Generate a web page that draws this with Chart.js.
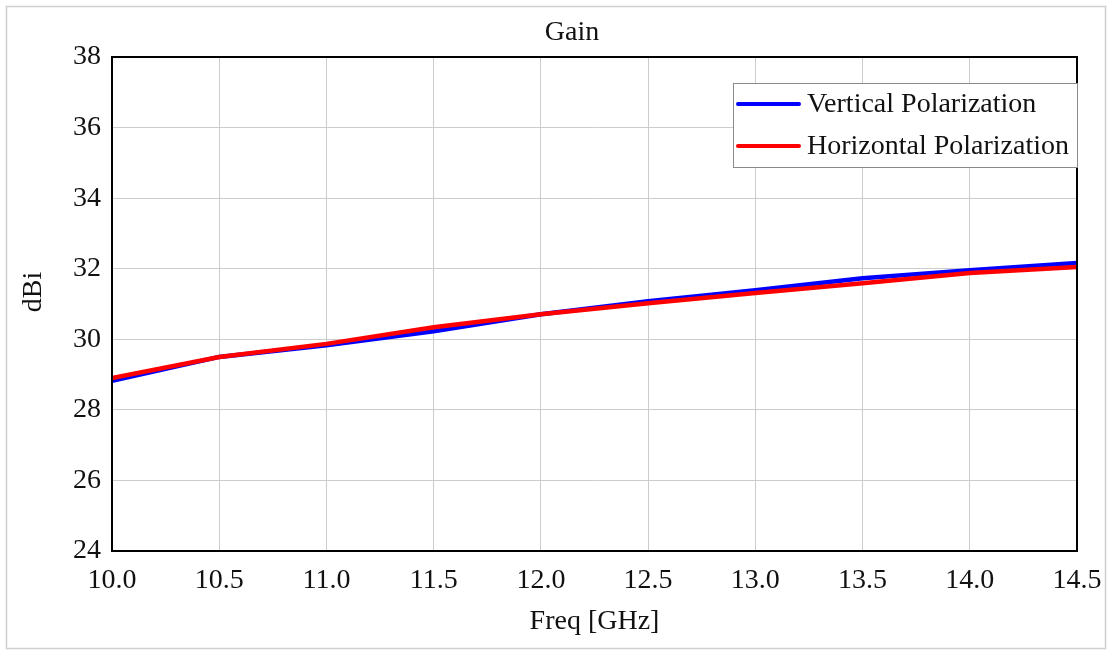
<!DOCTYPE html>
<html>
<head>
<meta charset="utf-8">
<script src="https://cdn.jsdelivr.net/npm/chart.js@4"></script>
<style>
  body { margin: 0; background: #fff; }
  #wrap { width: 1110px; height: 651px; }
</style>
</head>
<body>
<div id="wrap"><canvas id="myChart" width="1110" height="651"></canvas></div>
<script>
var freq = [10.0, 10.5, 11.0, 11.5, 12.0, 12.5, 13.0, 13.5, 14.0, 14.5];
var vertical = [28.82, 29.5, 29.83, 30.23, 30.71, 31.08, 31.39, 31.73, 31.96, 32.16];
var horizontal = [28.9, 29.5, 29.87, 30.34, 30.71, 31.02, 31.31, 31.59, 31.88, 32.05];
var yTicks = [24, 26, 28, 30, 32, 34, 36, 38];
var xTicks = [10.0, 10.5, 11.0, 11.5, 12.0, 12.5, 13.0, 13.5, 14.0, 14.5];

var serif = '"Liberation Serif", "DejaVu Serif", serif';

function toPoints(xs, ys) {
    return xs.map(function(x, i){ return { x: x, y: ys[i] }; });
}

// frame, title, y title and legend inside the plot
const extras = {
    id: 'extras',
    beforeDraw(chart) {
        const c = chart.ctx;
        c.save();
        c.fillStyle = '#fff';
        c.fillRect(0, 0, chart.width, chart.height);
        c.strokeStyle = '#cfcfcf';
        c.lineWidth = 1.5;
        c.strokeRect(6.5, 6.5, chart.width - 11, chart.height - 9);
        c.restore();
    },
    afterDraw(chart) {
        const c = chart.ctx;
        const a = chart.chartArea;
        c.save();
        c.strokeStyle = '#000';
        c.lineWidth = 2;
        c.strokeRect(a.left, a.top, a.right - a.left, a.bottom - a.top);

        c.fillStyle = '#111';
        c.font = '28px ' + serif;
        c.textAlign = 'center';
        c.textBaseline = 'middle';
        c.fillText('Gain', 572, 33);

        // y axis title
        c.save();
        c.translate(34, 292);
        c.rotate(-Math.PI / 2);
        c.fillText('dBi', 0, 0);
        c.restore();

        // legend box
        var bx = 733, by = 83, bw = a.right - bx, bh = 84;
        c.fillStyle = '#fff';
        c.fillRect(bx, by, bw, bh);
        c.strokeStyle = '#8a8a8a';
        c.lineWidth = 1;
        c.strokeRect(bx + 0.5, by + 0.5, bw, bh);
        c.font = '28px ' + serif;
        c.textAlign = 'left';
        chart.data.datasets.forEach(function(ds, i){
            var yy = 104 + i * 42;
            c.strokeStyle = ds.borderColor;
            c.lineWidth = 4;
            c.lineCap = 'round';
            c.beginPath();
            c.moveTo(738, yy);
            c.lineTo(799, yy);
            c.stroke();
            c.fillStyle = '#111';
            c.fillText(ds.label, 807, yy + 1);
        });
        c.restore();
    }
};

const ctx = document.getElementById('myChart').getContext('2d');
const myChart = new Chart(ctx, {
    type: 'line',
    data: {
        datasets: [{
            label: 'Vertical Polarization',
            data: toPoints(freq, vertical),
            borderColor: '#0000ff',
            borderWidth: 4.5,
            pointRadius: 0,
            order: 1,
            fill: false
        },
        {
            label: 'Horizontal Polarization',
            data: toPoints(freq, horizontal),
            borderColor: '#ff0000',
            borderWidth: 4.5,
            pointRadius: 0,
            order: 0,
            fill: false
        }]
    },
    options: {
        responsive: false,
        animation: false,
        layout: { padding: { top: 57, right: 33, left: 0, bottom: 0 } },
        plugins: {
            legend: { display: false },
            title: { display: false },
            tooltip: { enabled: false }
        },
        scales: {
            x: {
                type: 'linear',
                min: 10,
                max: 14.5,
                afterBuildTicks: function(scale){
                    scale.ticks = xTicks.map(function(v){ return { value: v }; });
                },
                afterFit: function(scale){
                    scale.height = 100;
                    scale.paddingLeft = 0;
                    scale.paddingRight = 0;
                },
                ticks: {
                    color: '#111',
                    font: { family: serif, size: 28 },
                    padding: 13,
                    maxRotation: 0,
                    autoSkip: false,
                    callback: function(v){ return Number(v).toFixed(1); }
                },
                grid: { color: '#cccccc', lineWidth: 1, drawTicks: false },
                border: { display: false },
                title: {
                    display: true,
                    text: 'Freq [GHz]',
                    color: '#111',
                    font: { family: serif, size: 28 },
                    padding: { top: 0, bottom: 13 }
                }
            },
            y: {
                min: 24,
                max: 38,
                afterBuildTicks: function(scale){
                    scale.ticks = yTicks.map(function(v){ return { value: v }; });
                },
                afterFit: function(scale){
                    scale.width = 112;
                },
                ticks: {
                    color: '#111',
                    font: { family: serif, size: 28 },
                    padding: 11
                },
                grid: { color: '#cccccc', lineWidth: 1, drawTicks: false },
                border: { display: false }
            }
        }
    },
    plugins: [extras]
});
</script>
</body>
</html>
